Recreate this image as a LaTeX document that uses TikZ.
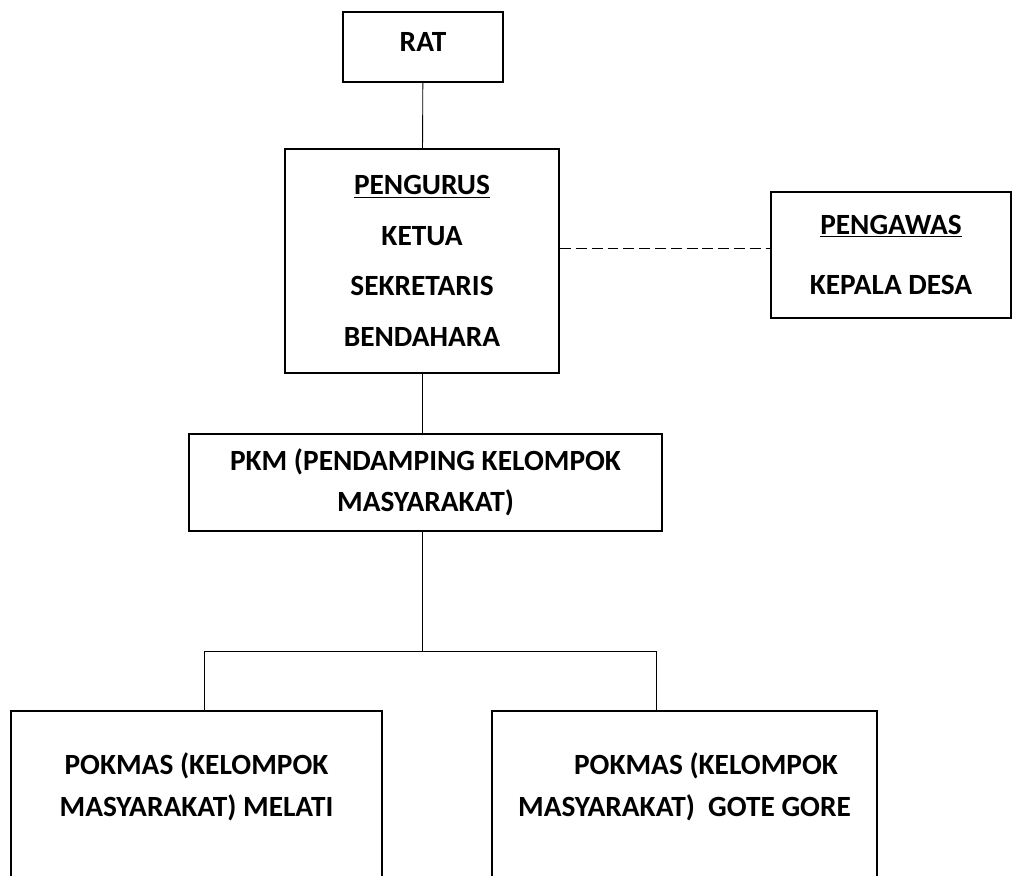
\documentclass[tikz,border=0pt]{standalone}
\usepackage{fontspec}
\setmainfont{Carlito}
\usetikzlibrary{positioning, calc}

\begin{document}
\begin{tikzpicture}[
x=0.02cm, y=-0.02cm,
box/.style={draw, line width=1.3pt, align=center, inner sep=2pt, font=\fontsize{16.7}{23.4}\selectfont\bfseries},
link/.style={line width=0.5pt}
]
\useasboundingbox (0,0) rectangle (1013,875);
\clip (0,0) rectangle (1013,875);

\node[box, minimum width=3.2cm, minimum height=1.4cm, text depth=6pt] (rat) at (423,47) {RAT};
\node[box, minimum width=5.48cm, minimum height=4.48cm] (pengurus) at (422,261)
  {\underline{PENGURUS}\\[5.3pt]KETUA\\[5.3pt]SEKRETARIS\\[5.3pt]BENDAHARA};
\node[box, minimum width=4.8cm, minimum height=2.52cm] (pengawas) at (891,255)
  {\underline{PENGAWAS}\\[11.2pt]KEPALA DESA};
\node[box, minimum width=9.46cm, minimum height=1.94cm] (pkm) at (425.5,482.5)
  {PKM (PENDAMPING KELOMPOK\\MASYARAKAT)};

\node[box, minimum width=7.42cm, minimum height=3.4cm, text depth=13pt] (melati) at (196.5,796)
  {POKMAS (KELOMPOK\\MASYARAKAT) MELATI};
\node[box, minimum width=7.7cm, minimum height=3.4cm, text depth=13pt] (gotegore) at (684.5,796)
  {\hspace*{0.86cm}POKMAS (KELOMPOK\\MASYARAKAT)\ \ GOTE GORE};

% bus to the two groups
\coordinate (bus) at (422,651);
\coordinate (busL) at (204,651);
\coordinate (busR) at (656,651);

\draw[link] (rat) -- (pengurus);
\draw[link] (pengurus.south) -- (pengurus.south |- pkm.north);
\draw[link, dash pattern=on 6.2pt off 2.8pt] ([yshift=0.14cm]pengawas.west -| pengurus.east) -- ([yshift=0.14cm]pengawas.west);
\draw[link] (bus |- pkm.south) -- (bus);
\draw[link] (busL |- melati.north) |- (busR) -- (busR |- gotegore.north);

\end{tikzpicture}
\end{document}
